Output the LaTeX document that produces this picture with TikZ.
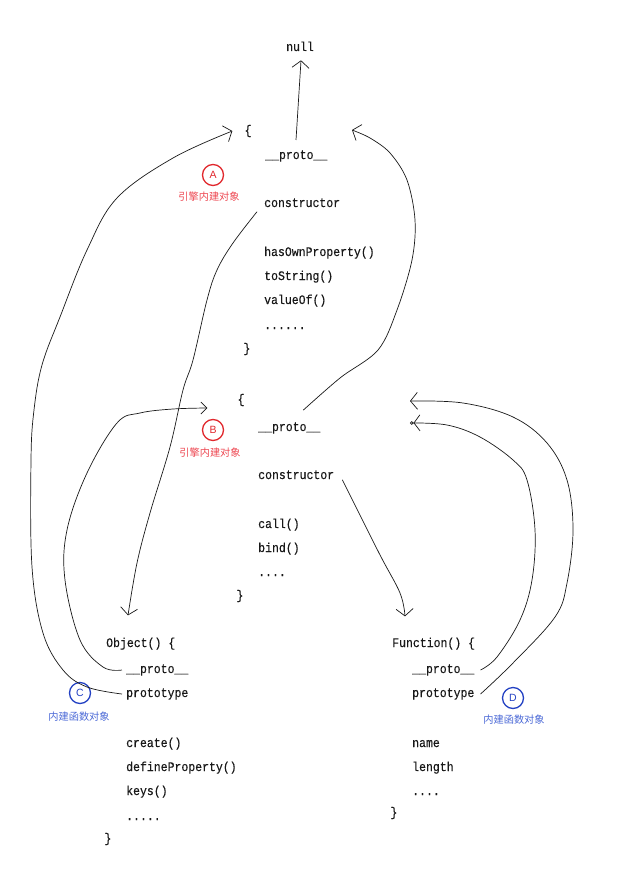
\documentclass[tikz,border=0pt]{standalone}
\usepackage{fontspec}
\setmonofont{Liberation Mono}[FakeStretch=0.885,FakeBold=0.25]
\newfontfamily\cjk{Noto Sans CJK SC}
\newfontfamily\lsans{Liberation Sans}
\usetikzlibrary{arrows.meta}
\definecolor{redc}{RGB}{225,40,45}
\definecolor{redt}{RGB}{238,72,82}
\definecolor{bluec}{RGB}{35,65,195}
\definecolor{bluet}{RGB}{75,105,215}
\definecolor{ink}{RGB}{25,25,25}
\begin{document}
\begin{tikzpicture}[x=1pt,y=-1pt,
  code/.style={anchor=base west, inner sep=0pt, font=\fontsize{13}{15}\ttfamily, text=ink},
  brace/.style={anchor=center, inner sep=0pt, font=\fontsize{13}{15}\ttfamily, text=ink},
  badge/.style={circle, draw=#1, line width=1.3pt, minimum size=21pt, inner sep=0pt, text=#1, font=\lsans\fontsize{10.5}{10.5}\selectfont},
  tag/.style={anchor=center, inner sep=0pt, text=#1, font=\cjk\fontsize{10.2}{11}\selectfont},
  wire/.style={draw=ink, line width=0.7pt},
  tip/.style={-{Straight Barb[length=7pt,width=17pt]}},
  smalltip/.style={-{Straight Barb[length=6pt,width=12pt]}},
  ringtip/.style={-{Straight Barb[length=6pt,width=16pt]Circle[open,length=3.5pt]}}
]
\fill[white] (0,0) rectangle (616,882);
\useasboundingbox (0,0) rectangle (616,882);

% block A
\node[code] (null) at (286,51) {null};
\node[brace] (Abrace) at (248,131) {\{};
\node[code] (Aproto) at (265,159) {\_\_proto\_\_};
\node[code] (Acons) at (264,207) {constructor};
\node[code] (Ahas) at (264,256) {hasOwnProperty()};
\node[code] (Atos) at (264,280) {toString()};
\node[code] (Aval) at (264,304) {valueOf()};
\node[code] (Adots) at (264,329) {......};
\node[brace] (Aend) at (247,349) {\}};
\node[badge=redc] (Acirc) at (213,175) {A};
\node[tag=redt] (Atag) at (209,197) {引擎内建对象};

% block B
\node[brace] (Bbrace) at (241,400) {\{};
\node[code] (Bproto) at (258,431) {\_\_proto\_\_};
\node[code] (Bcons) at (258,479) {constructor};
\node[code] (Bcall) at (258,528) {call()};
\node[code] (Bbind) at (258,552) {bind()};
\node[code] (Bdots) at (258,576) {....};
\node[brace] (Bend) at (240,596) {\}};
\node[badge=redc] (Bcirc) at (213,430) {B};
\node[tag=redt] (Btag) at (210,453) {引擎内建对象};

% block C
\node[code] (Cobj) at (106,647) {Object() \{};
\node[code] (Cproto) at (126,673) {\_\_proto\_\_};
\node[code] (Cprot) at (126,697) {prototype};
\node[code] (Ccreate) at (126,747) {create()};
\node[code] (Cdef) at (126,771) {defineProperty()};
\node[code] (Ckeys) at (126,795) {keys()};
\node[code] (Cdots) at (126,820) {.....};
\node[brace] (Cend) at (108,839) {\}};
\node[badge=bluec] (Ccirc) at (80,693) {C};
\node[tag=bluet] (Ctag) at (79,717) {内建函数对象};

% block D
\node[code] (Fn) at (392,647) {Function() \{};
\node[code] (Fproto) at (412,673) {\_\_proto\_\_};
\node[code] (Fprot) at (412,697) {prototype};
\node[code] (Fname) at (412,747) {name};
\node[code] (Flen) at (412,771) {length};
\node[code] (Fdots) at (412,795) {....};
\node[brace] (Fend) at (394,813) {\}};
\node[badge=bluec] (Dcirc) at (513,698) {D};
\node[tag=bluet] (Dtag) at (514,720) {内建函数对象};

% free ends
\coordinate (Aright) at (352,130);
\coordinate (Bin1) at (410,401);
\coordinate (Bin2) at (410,423);

% connectors
\draw[wire,tip] (296,140) -- ([xshift=1pt,yshift=-9pt]null.south);

\draw[wire,tip] plot[smooth,tension=0.6] coordinates {([xshift=-4pt]Cprot.west) (87,687) (63,670) (43,633) (32,567) (31,460) (34,410) (42,365) (60,317) (87,250) (117,198) (173,158) ([xshift=-12pt]Abrace.west)};

\draw[wire,smalltip] plot[smooth,tension=0.6] coordinates {([xshift=-4pt]Cproto.west) (103,667) (80,640) (65,580) (67,530) (87,473) (117,423) (140,413) (173,409) ([xshift=-30pt,yshift=-8pt]Bbrace.west)};

\draw[wire,tip] plot[smooth,tension=0.6] coordinates {([xshift=-7pt,yshift=-9pt]Acons.west) (233,243) (217,270) (207,300) (193,360) (183,390) (170,447) (150,513) (137,563) ([xshift=22pt,yshift=22pt]Cobj.north west)};

\draw[wire,tip] plot[smooth,tension=0.55] coordinates {([xshift=14pt,yshift=12pt]Bproto.north) (340,378) (378,350) (397,310) (412,260) (415,220) (407,180) (390,153) (370,138) (Aright)};

\draw[wire,tip] plot[smooth,tension=0.6] coordinates {([xshift=8pt,yshift=-5pt]Bcons.east) (379,553) (400,593) ([xshift=13pt,yshift=21pt]Fn.north west)};

\draw[wire,ringtip] plot[smooth,tension=0.6] coordinates {([xshift=6pt]Fproto.east) (497,657) (520,620) (532,580) (535,530) (527,480) (513,460) (480,437) (447,425) (Bin2)};

\draw[wire,tip] plot[smooth,tension=0.6] coordinates {([xshift=6pt]Fprot.east) (513,663) (555,617) (567,583) (573,530) (567,480) (547,443) (513,417) (463,403) (Bin1)};
\end{tikzpicture}
\end{document}
